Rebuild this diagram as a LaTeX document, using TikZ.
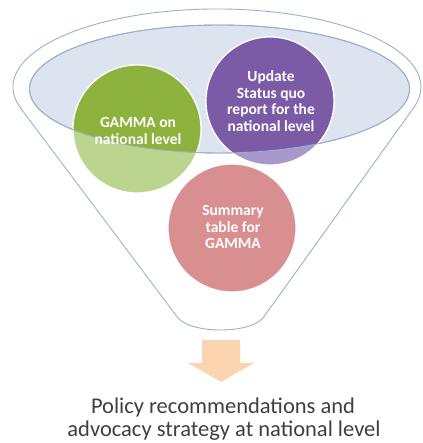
\documentclass[tikz,border=0pt]{standalone}
\usepackage{fontspec}
\setmainfont{Carlito}
\definecolor{funnelline}{HTML}{9BB0CF}
\definecolor{ellfill}{HTML}{DDE4F0}
\definecolor{gdark}{HTML}{8DB33E}
\definecolor{glight}{HTML}{BCD58E}
\definecolor{pdark}{HTML}{7B5AA6}
\definecolor{plight}{HTML}{A897CB}
\definecolor{rlight}{HTML}{D98F8F}
\definecolor{arrowc}{HTML}{FBD4B0}
\definecolor{textgray}{HTML}{404040}
\begin{document}
\begin{tikzpicture}[x=1pt,y=1pt,
  ball/.style={circle,minimum size=128pt,inner sep=0pt,draw=white,line width=1.2pt},
  balltext/.style={text=white,font=\bfseries\fontsize{15.5}{16.5}\selectfont,align=center,inner sep=0pt},
  outtext/.style={text=textgray,font=\fontsize{22.5}{24}\selectfont,inner sep=0pt,anchor=base},
  funnelstroke/.style={draw=funnelline,line width=0.9pt}]
\useasboundingbox (0,0) rectangle (422,443);
\fill[white] (0,0) rectangle (422,443);
% funnel outline
\draw[funnelstroke] (178,125) -- (20.9,334.5) arc[start angle=196,end angle=-16,x radius=204,y radius=78]
  -- (263,125) .. controls (249,109) and (192,109) .. (178,125);
% inner ellipse
\fill[ellfill] (219.5,354) ellipse[x radius=190,y radius=64];
\draw[funnelstroke] (219.5,354) ellipse[x radius=190,y radius=64];
% circles (light parts)
\node[ball,fill=glight] (g) at (137,314) {};
\node[ball,fill=plight] (p) at (270,342) {};
\node[ball,fill=rlight] (r) at (232,215) {};
% darker parts inside ellipse
\begin{scope}
  \clip (219.5,354) ellipse[x radius=190,y radius=64];
  \fill[gdark,draw=white,line width=1.2pt] (g.center) circle[radius=64];
  \fill[pdark,draw=white,line width=1.2pt] (p.center) circle[radius=64];
\end{scope}
\draw[funnelstroke] (219.5,354) ellipse[x radius=190,y radius=64];
% texts
\node[balltext] (gt) at (138,312) {GAMMA on\\national level};
\node[balltext] (pt) at (271,342) {Update\\Status quo\\report for the\\national level};
\node[balltext] (rt) at (233,216) {Summary\\table for\\GAMMA};
% arrow
\fill[arrowc] (202,103) -- (240,103) -- (240,80) -- (254,80) -- (221,61) -- (188,80) -- (202,80) -- cycle;
% bottom text
\node[outtext] (out1) at (223,29) {Policy recommendations and};
\node[outtext] (out2) at (224,6.5) {advocacy strategy at national level};
\end{tikzpicture}
\end{document}
